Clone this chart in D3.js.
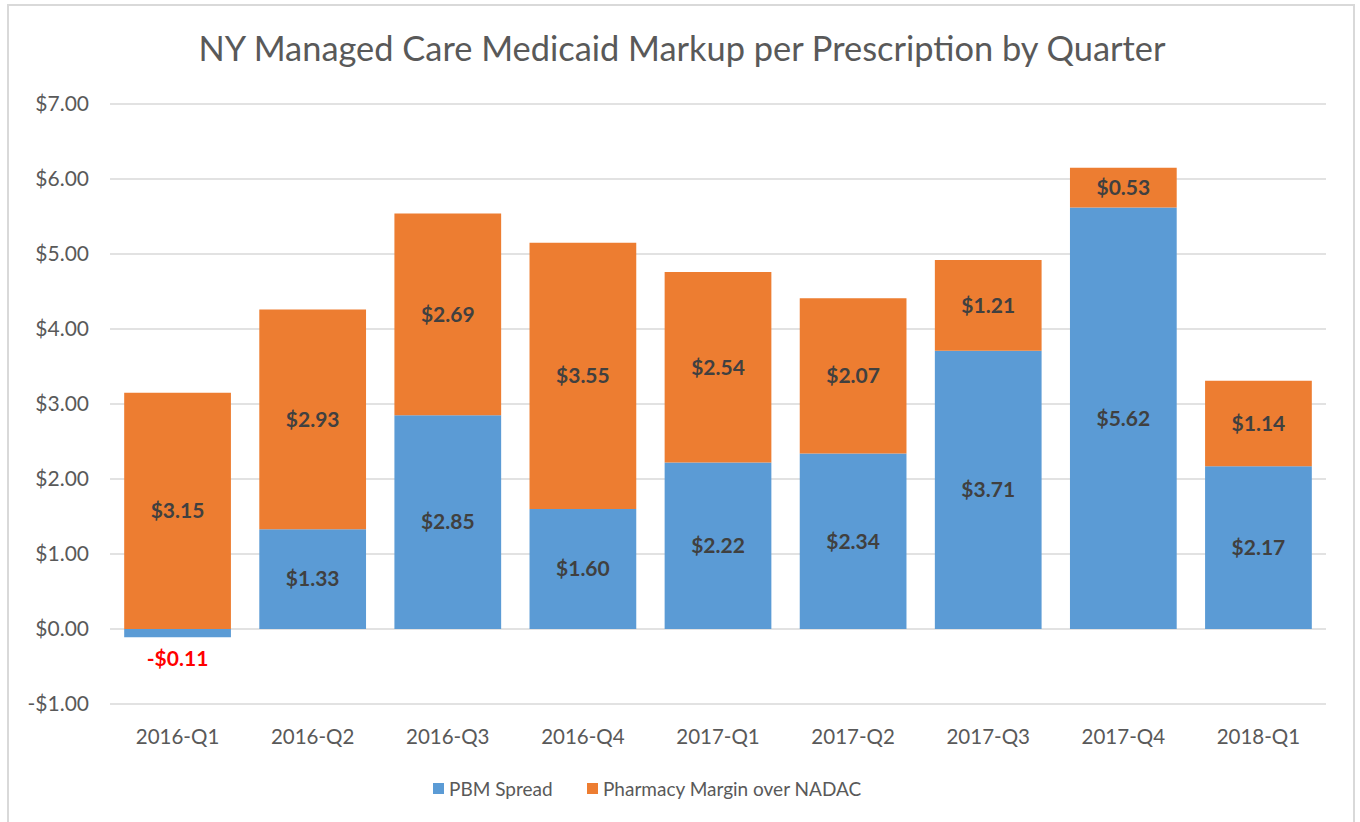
<!DOCTYPE html>
<html>
<head>
<meta charset="utf-8">
<script src="https://cdn.jsdelivr.net/npm/d3@7"></script>
<style>
  body { margin: 0; background: #fff; }
  svg { font-family: Lato, "Open Sans", sans-serif; }
</style>
</head>
<body>
<div id="chart"></div>
<script>
// chart data
var quarters = ["2016-Q1", "2016-Q2", "2016-Q3", "2016-Q4", "2017-Q1", "2017-Q2", "2017-Q3", "2017-Q4", "2018-Q1"];
var pbmSpread = [-0.11, 1.33, 2.85, 1.60, 2.22, 2.34, 3.71, 5.62, 2.17];
var pharmacyMargin = [3.15, 2.93, 2.69, 3.55, 2.54, 2.07, 1.21, 0.53, 1.14];
var yTicks = [-1, 0, 1, 2, 3, 4, 5, 6, 7];
var seriesNames = ["PBM Spread", "Pharmacy Margin over NADAC"];
var seriesColors = ["#5b9bd5", "#ed7d31"];

var width = 1360;
var height = 822;
var plotLeft = 110, plotRight = 1326, plotTop = 104, plotBottom = 704;

var svg = d3.select("#chart")
    .append("svg")
    .attr("width", width)
    .attr("height", height);

// outer frame
svg.append("rect")
    .attr("x", 8).attr("y", 5)
    .attr("width", 1346).attr("height", 830)
    .style("fill", "none")
    .style("stroke", "#d9d9d9")
    .style("stroke-width", 2);

svg.append("text")
    .attr("x", 682)
    .attr("y", 61)
    .attr("text-anchor", "middle")
    .attr("font-size", "34.4px")
    .style("fill", "#595959")
    .text("NY Managed Care Medicaid Markup per Prescription by Quarter");

var x = d3.scaleBand()
    .domain(quarters)
    .range([plotLeft, plotRight])
    .paddingInner(0.21)
    .paddingOuter(0.105);

var y = d3.scaleLinear()
    .domain([-1, 7])
    .range([plotBottom, plotTop]);

// gridlines
svg.selectAll("line.grid")
    .data(yTicks)
    .enter()
    .append("line")
    .attr("class", "grid")
    .attr("x1", plotLeft).attr("x2", plotRight)
    .attr("y1", function (d) { return y(d); })
    .attr("y2", function (d) { return y(d); })
    .style("stroke", "#d9d9d9")
    .style("stroke-width", 1.5);

svg.selectAll("text.ytick")
    .data(yTicks)
    .enter()
    .append("text")
    .attr("class", "ytick")
    .attr("x", 89)
    .attr("y", function (d) { return y(d); })
    .attr("dy", "0.35em")
    .attr("text-anchor", "end")
    .attr("font-size", "21px")
    .style("fill", "#595959")
    .text(function (d) { return (d < 0 ? "-$" : "$") + Math.abs(d).toFixed(2); });

svg.selectAll("text.xtick")
    .data(quarters)
    .enter()
    .append("text")
    .attr("class", "xtick")
    .attr("x", function (d) { return x(d) + x.bandwidth() / 2; })
    .attr("y", 744)
    .attr("text-anchor", "middle")
    .attr("font-size", "20.5px")
    .style("fill", "#595959")
    .text(function (d) { return d; });

function money(v) {
    return (v < 0 ? "-$" : "$") + Math.abs(v).toFixed(2);
}

// blue segments (start at zero)
svg.selectAll("rect.pbm")
    .data(quarters)
    .enter()
    .append("rect")
    .attr("class", "pbm")
    .attr("x", function (d) { return x(d); })
    .attr("width", x.bandwidth())
    .attr("y", function (d, i) { return y(Math.max(0, pbmSpread[i])); })
    .attr("height", function (d, i) { return Math.abs(y(pbmSpread[i]) - y(0)); })
    .style("fill", seriesColors[0]);

// orange segments stacked on the positive part
svg.selectAll("rect.margin")
    .data(quarters)
    .enter()
    .append("rect")
    .attr("class", "margin")
    .attr("x", function (d) { return x(d); })
    .attr("width", x.bandwidth())
    .attr("y", function (d, i) { return y(Math.max(0, pbmSpread[i]) + pharmacyMargin[i]); })
    .attr("height", function (d, i) { return y(0) - y(pharmacyMargin[i]); })
    .style("fill", seriesColors[1]);

svg.selectAll("text.pbmlabel")
    .data(quarters)
    .enter()
    .append("text")
    .attr("class", "pbmlabel")
    .attr("x", function (d) { return x(d) + x.bandwidth() / 2; })
    .attr("y", function (d, i) {
        if (pbmSpread[i] < 0) return y(0) + 30;
        return y(pbmSpread[i] / 2);
    })
    .attr("dy", "0.35em")
    .attr("text-anchor", "middle")
    .attr("font-size", "21px")
    .attr("font-weight", "bold")
    .style("fill", function (d, i) { return pbmSpread[i] < 0 ? "#ff0000" : "#404040"; })
    .text(function (d, i) { return money(pbmSpread[i]); });

svg.selectAll("text.marginlabel")
    .data(quarters)
    .enter()
    .append("text")
    .attr("class", "marginlabel")
    .attr("x", function (d) { return x(d) + x.bandwidth() / 2; })
    .attr("y", function (d, i) { return y(Math.max(0, pbmSpread[i]) + pharmacyMargin[i] / 2); })
    .attr("dy", "0.35em")
    .attr("text-anchor", "middle")
    .attr("font-size", "21px")
    .attr("font-weight", "bold")
    .style("fill", "#404040")
    .text(function (d, i) { return money(pharmacyMargin[i]); });

// legend
var legendX = [433, 587];
var legend = svg.selectAll("g.legend")
    .data(seriesNames)
    .enter()
    .append("g")
    .attr("class", "legend")
    .attr("transform", function (d, i) { return "translate(" + legendX[i] + ",783)"; });

legend.append("rect")
    .attr("width", 11)
    .attr("height", 11)
    .style("fill", function (d, i) { return seriesColors[i]; });

legend.append("text")
    .attr("x", 16)
    .attr("y", 6)
    .attr("dy", "0.35em")
    .attr("font-size", "19px")
    .style("fill", "#595959")
    .text(function (d) { return d; });
</script>
</body>
</html>
